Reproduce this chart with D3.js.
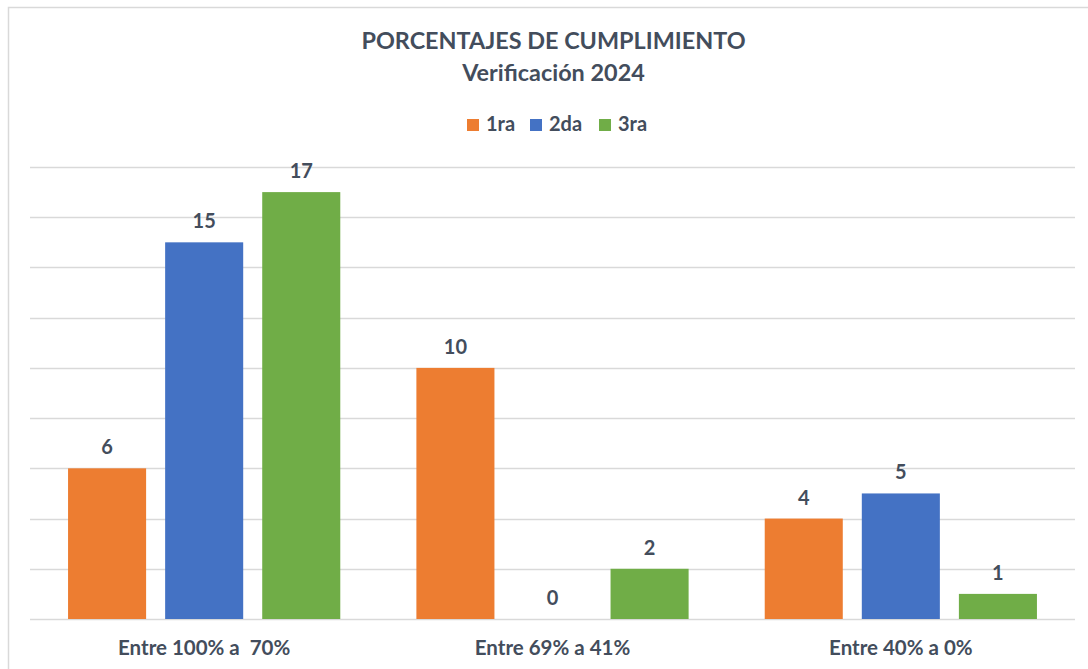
<!DOCTYPE html>
<html>
<head>
<meta charset="utf-8">
<script src="https://cdn.jsdelivr.net/npm/d3@7"></script>
<style>
  body { margin: 0; background: #fff; }
  text { font-family: Lato, "Open Sans", sans-serif; font-weight: bold; fill: #434d5c; }
</style>
</head>
<body>
<script>
// data
const categories = ["Entre 100% a  70%", "Entre 69% a 41%", "Entre 40% a 0%"];
const seriesNames = ["1ra", "2da", "3ra"];
const seriesColors = ["#ED7D31", "#4472C4", "#70AD47"];
const values1ra = [6, 10, 4];
const values2da = [15, 0, 5];
const values3ra = [17, 2, 1];
const yTicks = [0, 2, 4, 6, 8, 10, 12, 14, 16, 18];

const W = 1088, H = 669;
const allValues = [values1ra, values2da, values3ra];

let svg = d3.select("body").append("svg")
    .attr("width", W)
    .attr("height", H);

// outer chart frame (only top and left visible in the picture)
svg.append("path")
    .attr("d", `M8.5,${H} V7.5 H${W}`)
    .attr("fill", "none")
    .attr("stroke", "#d9d9d9")
    .attr("stroke-width", 1.5);

const plot = { left: 30, right: 1075, top: 167, bottom: 619 };

const x0 = d3.scaleBand().domain(categories).range([plot.left, plot.right]).padding(0);
const x1 = d3.scaleBand().domain(seriesNames).range([0, x0.bandwidth()])
    .paddingInner(0.196).paddingOuter(0.392);
const y = d3.scaleLinear().domain([0, 18]).range([plot.bottom, plot.top]);

// gridlines
svg.append("g")
    .selectAll("line")
    .data(yTicks)
    .enter()
    .append("line")
    .attr("x1", plot.left)
    .attr("x2", plot.right)
    .attr("y1", d => Math.round(y(d)) + 0.5)
    .attr("y2", d => Math.round(y(d)) + 0.5)
    .attr("stroke", "#d9d9d9")
    .attr("stroke-width", 1.5);

// flatten to rows
let rows = [];
categories.forEach((c, ci) => {
    seriesNames.forEach((s, si) => {
        rows.push({ cat: c, series: s, color: seriesColors[si], value: allValues[si][ci] });
    });
});

let bars = svg.append("g");
bars.selectAll("rect")
    .data(rows)
    .enter()
    .append("rect")
    .attr("x", d => x0(d.cat) + x1(d.series))
    .attr("y", d => y(d.value))
    .attr("width", x1.bandwidth())
    .attr("height", d => y(0) - y(d.value))
    .attr("fill", d => d.color);

bars.selectAll("text")
    .data(rows)
    .enter()
    .append("text")
    .attr("x", d => x0(d.cat) + x1(d.series) + x1.bandwidth() / 2)
    .attr("y", d => y(d.value) - 14)
    .attr("text-anchor", "middle")
    .attr("font-size", 20)
    .text(d => d.value);

// category axis labels
const xAxis = d3.axisBottom(x0).tickSize(0).tickPadding(0);
let ax = svg.append("g")
    .attr("transform", `translate(0,${plot.bottom})`)
    .call(xAxis);
ax.select(".domain").remove();
ax.selectAll("text")
    .attr("dy", 0)
    .attr("y", 36)
    .attr("font-size", 20.5)
    .style("font-family", "Lato, sans-serif")
    .style("white-space", "pre")
    .attr("fill", "#434d5c");

// title
const cx = (plot.left + plot.right) / 2;
svg.append("text")
    .attr("x", cx + 1).attr("y", 49)
    .attr("text-anchor", "middle")
    .attr("font-size", 23.4)
    .text("PORCENTAJES DE CUMPLIMIENTO");
svg.append("text")
    .attr("x", cx + 1).attr("y", 81)
    .attr("text-anchor", "middle")
    .attr("font-size", 23.4)
    .text("Verificación 2024");

// legend
const legendX = d3.scaleOrdinal().domain(seriesNames).range([467, 530, 599]);
let legend = svg.append("g")
    .selectAll("g")
    .data(seriesNames)
    .enter()
    .append("g")
    .attr("transform", d => `translate(${legendX(d)},119)`);
legend.append("rect")
    .attr("width", 12).attr("height", 12)
    .attr("fill", (d, i) => seriesColors[i]);
legend.append("text")
    .attr("x", 19).attr("y", 12)
    .attr("font-size", 20)
    .text(d => d);
</script>
</body>
</html>
